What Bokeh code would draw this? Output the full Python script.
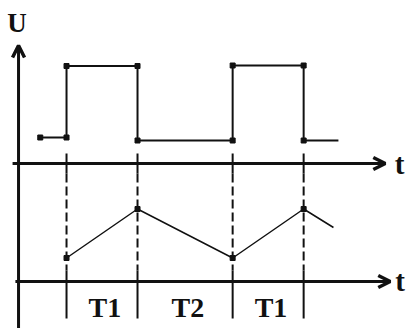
from bokeh.plotting import figure
from bokeh.models import Range1d, Arrow, OpenHead
from bokeh.core.properties import value
from bokeh.embed import file_html
from bokeh.resources import INLINE

# ---- data (time in units of T1, amplitude in arbitrary units) ----
edges = [0.0, 1.0, 2.34, 3.34]                      # switching instants
sq_t = [-0.37, 0.0, 0.0, 1.0, 1.0, 2.34, 2.34, 3.34, 3.34, 3.83]
sq_u = [2.6, 2.6, 9.75, 9.75, 2.3, 2.3, 9.8, 9.8, 2.3, 2.3]
tri_t = [0.0, 1.0, 2.34, 3.34, 3.76]
tri_u = [2.35, 7.25, 2.35, 7.25, 5.4]
period_labels = ["T1", "T2", "T1"]

# ---- layout constants ----
TOP_BASE = 16.5     # baseline of the upper (square) trace
BOT_BASE = 4.7      # baseline of the lower (triangle) trace
YAX_T = -0.676
INK = "#111111"
FONT = value("Liberation Serif")

p = figure(width=408, height=328, output_backend="svg", toolbar_location=None,
           x_range=Range1d(-0.930, 4.817), y_range=Range1d(0, 32.8),
           min_border=0)
p.axis.visible = False
p.grid.visible = False
p.outline_line_color = None
p.background_fill_color = "white"
p.border_fill_color = "white"

# axes with arrows
p.add_layout(Arrow(end=OpenHead(size=12, line_width=3.5, line_color=INK),
                   x_start=YAX_T, y_start=0, x_end=YAX_T, y_end=28.3,
                   line_width=3, line_color=INK))
p.add_layout(Arrow(end=OpenHead(size=12, line_width=3.5, line_color=INK),
                   x_start=-0.76, y_start=TOP_BASE, x_end=4.49, y_end=TOP_BASE,
                   line_width=3, line_color=INK))
p.add_layout(Arrow(end=OpenHead(size=12, line_width=3.5, line_color=INK),
                   x_start=-0.72, y_start=BOT_BASE, x_end=4.56, y_end=BOT_BASE,
                   line_width=3, line_color=INK))

# ticks and dashed guides at each switching instant
p.segment(x0=edges, x1=edges, y0=[TOP_BASE + 1.0] * 4, y1=[TOP_BASE - 1.0] * 4,
          line_width=2, line_color=INK)
p.segment(x0=edges, x1=edges, y0=[TOP_BASE - 1.0] * 4, y1=[BOT_BASE + 1.1] * 4,
          line_width=2, line_color=INK, line_dash="9 4")
p.segment(x0=edges, x1=edges, y0=[BOT_BASE + 1.1] * 4, y1=[BOT_BASE - 3.7] * 4,
          line_width=2, line_color=INK)

# square wave
sq_y = [TOP_BASE + u for u in sq_u]
p.line(sq_t, sq_y, line_width=2, line_color=INK)
p.scatter(sq_t[:-1], sq_y[:-1], marker="square", size=5, color=INK)

# triangle wave
tri_y = [BOT_BASE + u for u in tri_u]
p.line(tri_t, tri_y, line_width=1.5, line_color=INK)
p.scatter(tri_t[:-1], tri_y[:-1], marker="square", size=5, color=INK)

# labels
mids = [(edges[i] + edges[i + 1]) / 2 for i in range(3)]
p.text(x=[m + 0.04 for m in mids], y=[2.1] * 3, text=period_labels, text_font=FONT,
       text_font_size="28px", text_font_style="bold", text_align="center",
       text_baseline="middle", text_color=INK)
p.text(x=[YAX_T - 0.02], y=[30.6], text=["U"], text_font=FONT,
       text_font_size="27px", text_font_style="bold", text_align="center",
       text_baseline="middle", text_color=INK)
p.text(x=[4.69, 4.70], y=[TOP_BASE, BOT_BASE + 0.1], text=["t", "t"],
       text_font=FONT, text_font_size="29px", text_font_style="bold",
       text_align="center", text_baseline="middle", text_color=INK)

open("out.html", "w").write(file_html(p, INLINE))
